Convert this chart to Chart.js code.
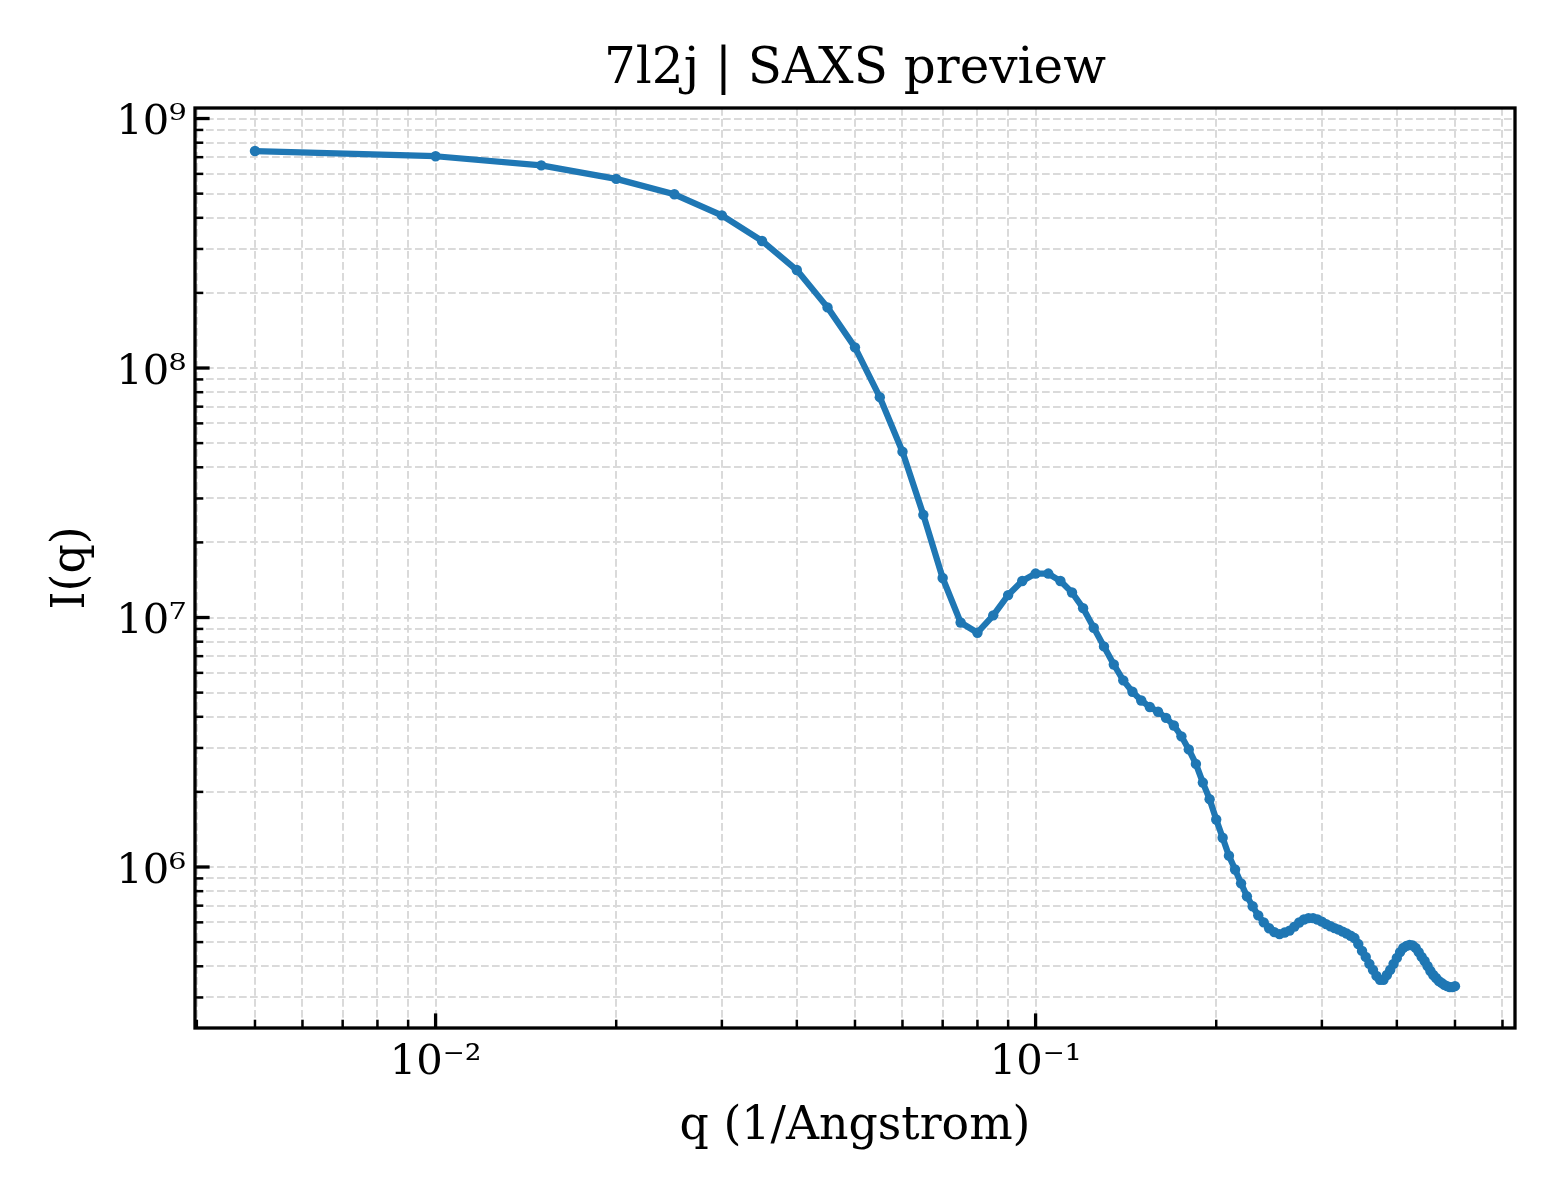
<!DOCTYPE html>
<html>
<head>
<meta charset="utf-8">
<title>7l2j | SAXS preview</title>
<style>
html,body{margin:0;padding:0;background:#ffffff;}
canvas{display:block;}
</style>
<script src="https://cdn.jsdelivr.net/npm/chart.js@4/dist/chart.umd.min.js"></script>
</head>
<body>
<canvas id="c" width="1560" height="1200" style="width:1560px;height:1200px"></canvas>
<script>
// ---- data ----
const qValues = [
  0.005,0.010,0.015,0.020,0.025,0.030,0.035,0.040,0.045,0.050,
  0.055,0.060,0.065,0.070,0.075,0.080,0.085,0.090,0.095,0.100,
  0.105,0.110,0.115,0.120,0.125,0.130,0.135,0.140,0.145,0.150,
  0.155,0.160,0.165,0.170,0.175,0.180,0.185,0.190,0.195,0.200,
  0.205,0.210,0.215,0.220,0.225,0.230,0.235,0.240,0.245,0.250,
  0.255,0.260,0.265,0.270,0.275,0.280,0.285,0.290,0.295,0.300,
  0.305,0.310,0.315,0.320,0.325,0.330,0.335,0.340,0.345,0.350,
  0.355,0.360,0.365,0.370,0.375,0.380,0.385,0.390,0.395,0.400,
  0.405,0.410,0.415,0.420,0.425,0.430,0.435,0.440,0.445,0.450,
  0.455,0.460,0.465,0.470,0.475,0.480,0.485,0.490,0.495,0.500
];
const intensity = [
  7.41e8,7.06e8,6.49e8,5.73e8,4.97e8,4.09e8,3.23e8,2.47e8,1.75e8,1.21e8,
  7.64e7,4.62e7,2.58e7,1.44e7,9.55e6,8.69e6,1.02e7,1.23e7,1.40e7,1.50e7,
  1.50e7,1.40e7,1.26e7,1.09e7,9.10e6,7.66e6,6.48e6,5.60e6,5.04e6,4.65e6,
  4.38e6,4.19e6,3.96e6,3.69e6,3.34e6,2.96e6,2.59e6,2.18e6,1.87e6,1.55e6,
  1.31e6,1.11e6,9.77e5,8.60e5,7.63e5,6.96e5,6.40e5,6.00e5,5.68e5,5.48e5,
  5.38e5,5.46e5,5.56e5,5.77e5,5.99e5,6.16e5,6.24e5,6.24e5,6.16e5,6.04e5,
  5.90e5,5.79e5,5.69e5,5.61e5,5.51e5,5.41e5,5.30e5,5.19e5,4.91e5,4.61e5,
  4.36e5,4.09e5,3.87e5,3.66e5,3.53e5,3.53e5,3.69e5,3.87e5,4.09e5,4.32e5,
  4.56e5,4.74e5,4.83e5,4.87e5,4.85e5,4.74e5,4.56e5,4.36e5,4.20e5,4.01e5,
  3.83e5,3.69e5,3.59e5,3.49e5,3.43e5,3.37e5,3.33e5,3.30e5,3.30e5,3.33e5
];
const xMajorTicks = [0.01, 0.1];
const xTickLabels = ['10\u207B\u00B2', '10\u207B\u00B9'];
const yMajorTicks = [1e6, 1e7, 1e8, 1e9];
const yTickLabels = ['10\u2076', '10\u2077', '10\u2078', '10\u2079'];
const minorSteps = [2, 3, 4, 5, 6, 7, 8, 9];
const xRange = [0.003972, 0.6295];
const yRange = [2.263e5, 1.102e9];
const titleText = '7l2j | SAXS preview';
const xTitle = 'q (1/Angstrom)';
const yTitle = 'I(q)';

// ---- helpers ----
function logTicks(lo, hi) {
  const out = [];
  const d0 = Math.floor(Math.log10(lo)), d1 = Math.ceil(Math.log10(hi));
  for (let d = d0; d <= d1; d++) {
    [1].concat(minorSteps).forEach(m => {
      const v = Number((m * Math.pow(10, d)).toPrecision(6));
      if (v >= lo && v <= hi) out.push({value: v});
    });
  }
  return out;
}
function majorIndex(v, majors) {
  for (let i = 0; i < majors.length; i++) {
    if (Math.abs(Math.log10(v / majors[i])) < 1e-6) return i;
  }
  return -1;
}

const FONT = "'DejaVu Serif', 'Liberation Serif', serif";
const SPINE = 3.3, MAJW = 3.3, MINW = 2.5, MAJL = 14.6, MINL = 8.3;

const frameTicks = {
  id: 'frameTicks',
  afterDraw(chart) {
    const {ctx, chartArea: a, scales} = chart;
    ctx.save();
    ctx.strokeStyle = '#000000';
    ctx.lineCap = 'butt';
    scales.x.ticks.forEach(t => {
      const px = scales.x.getPixelForValue(t.value);
      const major = majorIndex(t.value, xMajorTicks) >= 0;
      ctx.lineWidth = major ? MAJW : MINW;
      ctx.beginPath();
      ctx.moveTo(px, a.bottom);
      ctx.lineTo(px, a.bottom - (major ? MAJL : MINL));
      ctx.stroke();
    });
    scales.y.ticks.forEach(t => {
      const py = scales.y.getPixelForValue(t.value);
      const major = majorIndex(t.value, yMajorTicks) >= 0;
      ctx.lineWidth = major ? MAJW : MINW;
      ctx.beginPath();
      ctx.moveTo(a.left, py);
      ctx.lineTo(a.left + (major ? MAJL : MINL), py);
      ctx.stroke();
    });
    ctx.lineWidth = SPINE;
    ctx.lineJoin = 'miter';
    ctx.strokeRect(a.left, a.top, a.right - a.left, a.bottom - a.top);
    ctx.restore();
  }
};

const gridStyle = {color: '#dadada', lineWidth: 2.0, drawTicks: false};
const borderStyle = {display: false, dash: [7.7, 3.3]};

new Chart(document.getElementById('c'), {
  type: 'scatter',
  data: {
    datasets: [{
      data: qValues.map((q, i) => ({x: q, y: intensity[i]})),
      showLine: true,
      borderColor: '#1f77b4',
      backgroundColor: '#1f77b4',
      borderWidth: 6.25,
      borderJoinStyle: 'round',
      borderCapStyle: 'round',
      tension: 0,
      pointRadius: 5.2,
      pointBorderWidth: 0,
      pointBackgroundColor: '#1f77b4',
      pointHoverRadius: 5.2
    }]
  },
  options: {
    responsive: false,
    animation: false,
    devicePixelRatio: 1,
    events: [],
    layout: {padding: {top: 0, right: 45, bottom: 0, left: 0}},
    plugins: {
      legend: {display: false},
      tooltip: {enabled: false},
      title: {
        display: true,
        fullSize: false,
        text: titleText,
        color: '#000000',
        font: {family: FONT, size: 50, weight: 'normal', lineHeight: 1.2},
        padding: {top: 40, bottom: 8}
      }
    },
    scales: {
      x: {
        type: 'logarithmic',
        position: 'bottom',
        min: xRange[0],
        max: xRange[1],
        afterBuildTicks: s => { s.ticks = logTicks(xRange[0], xRange[1]); },
        afterFit: s => { s.height = 172; },
        grid: gridStyle,
        border: borderStyle,
        ticks: {
          autoSkip: false,
          maxRotation: 0,
          minRotation: 0,
          padding: 10,
          color: '#000000',
          font: {family: FONT, size: 41.7, lineHeight: 1.2},
          callback: (v) => { const i = majorIndex(v, xMajorTicks); return i >= 0 ? xTickLabels[i] : ''; }
        },
        title: {
          display: true,
          text: xTitle,
          color: '#000000',
          font: {family: FONT, size: 45.8, lineHeight: 1.2},
          padding: {top: 0, bottom: 45.5}
        }
      },
      y: {
        type: 'logarithmic',
        position: 'left',
        min: yRange[0],
        max: yRange[1],
        afterBuildTicks: s => { s.ticks = logTicks(yRange[0], yRange[1]); },
        afterFit: s => { s.width = 195; },
        grid: gridStyle,
        border: borderStyle,
        ticks: {
          autoSkip: false,
          padding: 9,
          labelOffset: 5,
          color: '#000000',
          font: {family: FONT, size: 41.7, lineHeight: 1.2},
          callback: (v) => { const i = majorIndex(v, yMajorTicks); return i >= 0 ? yTickLabels[i] : ''; }
        },
        title: {
          display: true,
          text: yTitle,
          color: '#000000',
          font: {family: FONT, size: 45.8, lineHeight: 1.2},
          padding: {top: 44.5, bottom: 0}
        }
      }
    }
  },
  plugins: [frameTicks]
});
</script>
</body>
</html>
